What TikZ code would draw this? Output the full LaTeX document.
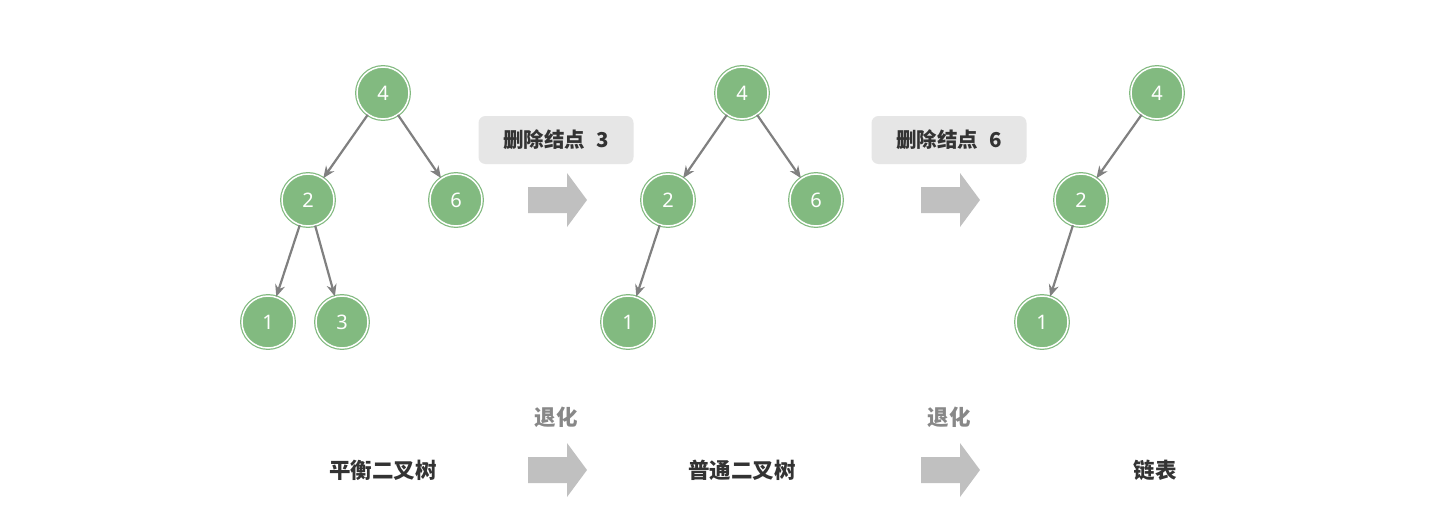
\documentclass[tikz,border=0pt]{standalone}
\usepackage{fontspec}
\setmainfont{Noto Sans}
\newfontfamily\cjk{Noto Sans CJK SC}
\usetikzlibrary{arrows.meta}
\definecolor{nodeg}{RGB}{130,186,128}
\definecolor{edgeg}{RGB}{128,128,128}
\definecolor{boxg}{RGB}{230,230,230}
\definecolor{arrg}{RGB}{192,192,192}
\definecolor{txtd}{RGB}{51,51,51}
\definecolor{txtg}{RGB}{136,136,136}
\tikzset{
  tnode/.style={circle, minimum size=52pt, inner sep=0pt, fill=nodeg, draw=nodeg,
    line width=1.2pt, double=white, double distance=1.5pt, text=white,
    font=\fontsize{20}{20}\selectfont},
  tedge/.style={draw=edgeg, line width=2.2pt, -{Stealth[length=12pt,width=10pt]}},
  lbox/.style={rounded corners=7pt, fill=boxg, minimum width=155pt, minimum height=48pt,
    text=txtd, font=\cjk\bfseries\fontsize{20.5}{20.5}\selectfont},
  blabel/.style={text=txtd, font=\cjk\bfseries\fontsize{21.5}{21.5}\selectfont},
  glabel/.style={text=txtg, font=\cjk\bfseries\fontsize{21.5}{21.5}\selectfont},
}
\newcommand{\blockarrow}[2]{%
  \fill[arrg] (#1,#2-13) -- (#1+39,#2-13) -- (#1+39,#2-27) -- (#1+59,#2) -- (#1+39,#2+27) -- (#1+39,#2+13) -- (#1,#2+13) -- cycle;}
\begin{document}
\begin{tikzpicture}[x=1pt,y=-1pt]
\useasboundingbox[fill=white] (0,0) rectangle (1447,525);
% tree 1
\node[tnode] (a4) at (383,93) {4};
\node[tnode] (a2) at (308,200) {2};
\node[tnode] (a6) at (456,200) {6};
\node[tnode] (a1) at (268,322) {1};
\node[tnode] (a3) at (342,322) {3};
\draw[tedge] (a4) -- (a2);
\draw[tedge] (a4) -- (a6);
\draw[tedge] (a2) -- (a1);
\draw[tedge] (a2) -- (a3);
% tree 2
\node[tnode] (b4) at (742,93) {4};
\node[tnode] (b2) at (668,200) {2};
\node[tnode] (b6) at (816,200) {6};
\node[tnode] (b1) at (628,322) {1};
\draw[tedge] (b4) -- (b2);
\draw[tedge] (b4) -- (b6);
\draw[tedge] (b2) -- (b1);
% tree 3
\node[tnode] (c4) at (1157,93) {4};
\node[tnode] (c2) at (1081,200) {2};
\node[tnode] (c1) at (1042,322) {1};
\draw[tedge] (c4) -- (c2);
\draw[tedge] (c2) -- (c1);
% labels
\node[lbox] (l1) at (556,140) {删除结点\hspace{11pt}3};
\node[lbox] (l2) at (949,140) {删除结点\hspace{11pt}6};
\blockarrow{528}{200}
\blockarrow{921}{200}
\blockarrow{528}{470}
\blockarrow{921}{470}
\node[glabel] (g1) at (556,417) {退化};
\node[glabel] (g2) at (949,417) {退化};
\node[blabel] (t1) at (383,470) {平衡二叉树};
\node[blabel] (t2) at (742,470) {普通二叉树};
\node[blabel] (t3) at (1155,470) {链表};
\end{tikzpicture}
\end{document}
